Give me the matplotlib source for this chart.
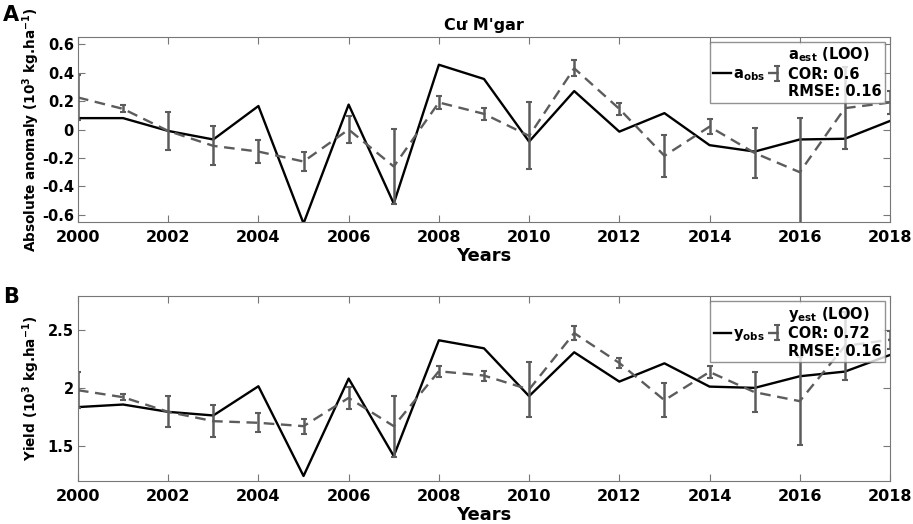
import matplotlib
matplotlib.use("Agg")
import matplotlib.pyplot as plt
import numpy as np
from matplotlib.ticker import FormatStrFormatter

plt.rcParams['font.family'] = ['DejaVu Sans']
plt.rcParams['font.weight'] = 'bold'
plt.rcParams['axes.labelweight'] = 'bold'
plt.rcParams['mathtext.default'] = 'bf'

years = np.arange(2000, 2019)

# panel A - absolute anomaly
a_obs = [0.08, 0.08, -0.01, -0.07, 0.165, -0.66, 0.175, -0.52, 0.455, 0.355,
         -0.085, 0.27, -0.015, 0.115, -0.11, -0.155, -0.07, -0.065, 0.06]
a_est = [0.225, 0.145, -0.01, -0.115, -0.155, -0.225, 0.0, -0.26, 0.19, 0.11,
         -0.045, 0.43, 0.145, -0.185, 0.02, -0.165, -0.30, 0.15, 0.19]
a_err = [0.155, 0.025, 0.135, 0.137, 0.083, 0.065, 0.097, 0.265, 0.043, 0.042,
         0.235, 0.057, 0.04, 0.148, 0.054, 0.176, 0.38, 0.29, 0.08]

# panel B - yield
y_obs = [1.835, 1.857, 1.794, 1.763, 2.014, 1.243, 2.08, 1.414, 2.409, 2.34,
         1.929, 2.306, 2.054, 2.211, 2.011, 2.0, 2.1, 2.14, 2.283]
y_est = [1.98, 1.92, 1.794, 1.714, 1.70, 1.671, 1.914, 1.671, 2.143, 2.106,
         1.986, 2.471, 2.214, 1.894, 2.137, 1.963, 1.886, 2.36, 2.414]
y_err = [0.154, 0.025, 0.134, 0.136, 0.083, 0.063, 0.097, 0.263, 0.046, 0.043,
         0.233, 0.057, 0.04, 0.146, 0.053, 0.174, 0.38, 0.29, 0.079]

stats_a = ("0.6", "0.16")
stats_b = ("0.72", "0.16")

fig = plt.figure(figsize=(9.13, 5.24), dpi=100)
ax1 = fig.add_axes([0.0854, 0.5763, 0.8894, 0.3531])
ax2 = fig.add_axes([0.0854, 0.0821, 0.8894, 0.3531])

grey = '#5c5c5c'


def draw(ax, obs, est, err, sym, stats, ylim, yticks, ylabel):
    ax.plot(years, obs, color='black', lw=1.7, label=r'$%s_{obs}$' % sym)
    ax.errorbar(years, est, yerr=err, color=grey, ls=(0, (4.5, 2.8)), lw=1.7,
                elinewidth=1.8, capsize=2.5, capthick=1.5,
                label=r'$%s_{est}$ (LOO)' % sym + '\nCOR: %s\nRMSE: %s' % stats)
    ax.set_xlim(2000, 2018)
    ax.set_ylim(*ylim)
    ax.set_xticks(np.arange(2000, 2019, 2))
    ax.set_yticks(yticks)
    ax.yaxis.set_major_formatter(FormatStrFormatter('%g'))
    ax.tick_params(direction='in', top=True, right=True, labelsize=11.5,
                   length=5, color='#777777')
    ax.tick_params(axis='x', pad=6)
    ax.tick_params(axis='y', pad=3, labelsize=10.5)
    for s in ax.spines.values():
        s.set_color('#777777')
    ax.set_xlabel('Years', fontsize=13, labelpad=1)
    ax.set_ylabel(ylabel, fontsize=9.8)
    ax.yaxis.set_label_coords(-0.044, 0.5)
    leg = ax.legend(loc='upper right', ncol=2, fontsize=10.5, frameon=True,
                    fancybox=False, handlelength=1.2, handletextpad=0.15,
                    columnspacing=0.2, borderaxespad=0.35, borderpad=0.25,
                    labelspacing=0.1)
    leg.get_frame().set_edgecolor('#777777')
    leg.get_frame().set_linewidth(1)
    for t in leg.get_texts():
        t.set_fontweight('bold')


draw(ax1, a_obs, a_est, a_err, 'a', stats_a, (-0.65, 0.65),
     [-0.6, -0.4, -0.2, 0, 0.2, 0.4, 0.6],
     r'Absolute anomaly (10$^3$ kg.ha$^{-1}$)')
draw(ax2, y_obs, y_est, y_err, 'y', stats_b, (1.2, 2.79),
     [1.5, 2, 2.5], r'Yield (10$^3$ kg.ha$^{-1}$)')

ax1.set_title("Cư M'gar", fontsize=11.5, fontweight='bold', pad=5)
fig.text(0.003, 0.99, 'A', fontsize=15, fontweight='bold', va='top')
fig.text(0.003, 0.452, 'B', fontsize=15, fontweight='bold', va='top')

fig.savefig('out.png', dpi=100)
